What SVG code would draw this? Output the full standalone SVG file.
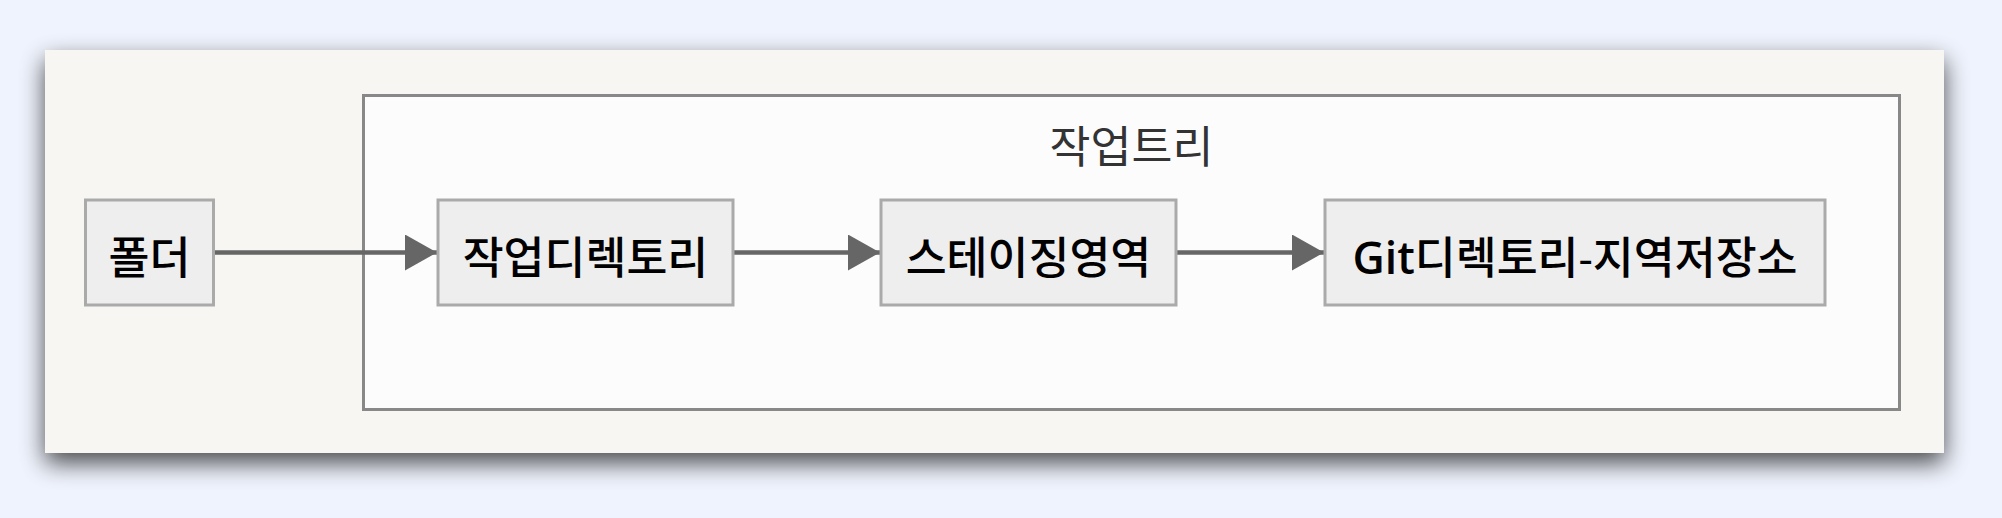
<svg xmlns="http://www.w3.org/2000/svg" width="2002" height="518" viewBox="0 0 2002 518">
<style>
.node rect{fill:#eeeeee;stroke:#aaaaaa;stroke-width:3}
.node text,.cl text{font-family:"Open Sans","Noto Sans CJK KR",sans-serif;font-size:44.5px;text-anchor:middle;dominant-baseline:central}
.node text{fill:#000;font-weight:500}
.node text .lat{font-weight:600}
.cl text{fill:#333}
.edge{stroke:#666;stroke-width:4.5;fill:none}
</style>
<defs>
<filter id="sh" x="-5%" y="-20%" width="110%" height="150%">
<feGaussianBlur in="SourceAlpha" stdDeviation="12"/>
<feOffset dx="0" dy="10" result="b"/>
<feComponentTransfer><feFuncA type="linear" slope="0.7"/></feComponentTransfer>
<feMerge><feMergeNode/><feMergeNode in="SourceGraphic"/></feMerge>
</filter>
<marker id="ah" markerUnits="userSpaceOnUse" markerWidth="32" markerHeight="36" refX="32" refY="18" orient="auto">
<path d="M0,0 L32,18 L0,36 Z" fill="#666"/>
</marker>
</defs>
<rect width="2002" height="518" fill="#eff3fd"/>
<rect x="45" y="50" width="1899" height="403" fill="#f7f6f2" filter="url(#sh)"/>
<g id="cluster-worktree" class="cl">
<rect x="363.5" y="95.5" width="1536" height="314" fill="#fcfcfc" stroke="#888" stroke-width="3"/>
<text x="1131.5" y="145">작업트리</text>
</g>
<g id="edges">
<path class="edge" d="M214,252.5 L437,252.5" marker-end="url(#ah)"/>
<path class="edge" d="M733,252.5 L880,252.5" marker-end="url(#ah)"/>
<path class="edge" d="M1176,252.5 L1324,252.5" marker-end="url(#ah)"/>
</g>
<g id="node-folder" class="node">
<rect x="85.5" y="200" width="128" height="105"/>
<text x="149.5" y="256">폴더</text>
</g>
<g id="node-workdir" class="node">
<rect x="438" y="200" width="295" height="105"/>
<text x="585.5" y="256">작업디렉토리</text>
</g>
<g id="node-staging" class="node">
<rect x="881" y="200" width="295" height="105"/>
<text x="1028.5" y="256">스테이징영역</text>
</g>
<g id="node-gitdir" class="node">
<rect x="1325" y="200" width="500" height="105"/>
<text x="1575" y="256"><tspan class="lat">Git</tspan>디렉토리-지역저장소</text>
</g>
</svg>
